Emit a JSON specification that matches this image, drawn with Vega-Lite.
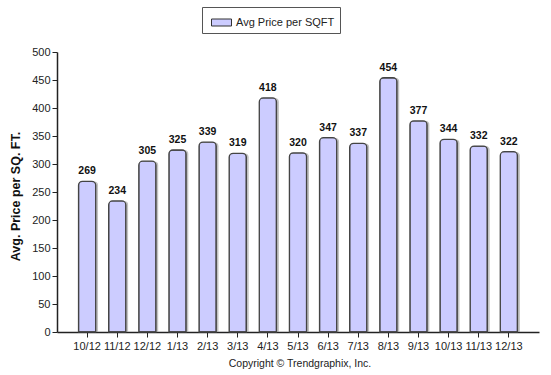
{
  "$schema": "https://vega.github.io/schema/vega-lite/v6.json",
  "width": 482,
  "height": 280,
  "autosize": "none",
  "padding": {"left": 57, "top": 52, "right": 12, "bottom": 43},
  "background": "white",
  "config": {
    "view": {"stroke": null},
    "font": "Liberation Sans",
    "axis": {"grid": false, "domainColor": "#222", "tickColor": "#222", "labelColor": "#222", "labelFont": "Liberation Sans", "labelFontSize": 11, "tickSize": 5, "domainWidth": 1.5}
  },
  "title": {"text": "Copyright © Trendgraphix, Inc.", "orient": "bottom", "anchor": "middle", "fontSize": 10.5, "fontWeight": "normal", "font": "Liberation Sans", "color": "#222", "offset": 8, "dx": 2},
  "data": {"values": [
    {"month": "10/12", "price": 269, "series": "Avg Price per SQFT"},
    {"month": "11/12", "price": 234, "series": "Avg Price per SQFT"},
    {"month": "12/12", "price": 305, "series": "Avg Price per SQFT"},
    {"month": "1/13", "price": 325, "series": "Avg Price per SQFT"},
    {"month": "2/13", "price": 339, "series": "Avg Price per SQFT"},
    {"month": "3/13", "price": 319, "series": "Avg Price per SQFT"},
    {"month": "4/13", "price": 418, "series": "Avg Price per SQFT"},
    {"month": "5/13", "price": 320, "series": "Avg Price per SQFT"},
    {"month": "6/13", "price": 347, "series": "Avg Price per SQFT"},
    {"month": "7/13", "price": 337, "series": "Avg Price per SQFT"},
    {"month": "8/13", "price": 454, "series": "Avg Price per SQFT"},
    {"month": "9/13", "price": 377, "series": "Avg Price per SQFT"},
    {"month": "10/13", "price": 344, "series": "Avg Price per SQFT"},
    {"month": "11/13", "price": 332, "series": "Avg Price per SQFT"},
    {"month": "12/13", "price": 322, "series": "Avg Price per SQFT"}
  ]},
  "encoding": {
    "x": {"field": "month", "type": "ordinal", "sort": null,
      "scale": {"paddingInner": 0.43, "paddingOuter": 0.715},
      "axis": {"title": null, "labelAngle": 0, "labelPadding": 3}},
    "y": {"field": "price", "type": "quantitative",
      "scale": {"domain": [0, 500], "nice": false},
      "axis": {"values": [0,50,100,150,200,250,300,350,400,450,500], "title": "Avg. Price per SQ. FT.", "titleFontSize": 12.5, "titleFontWeight": "bold", "titleColor": "#111", "titleFont": "Liberation Sans", "titlePadding": 9, "titleY": 144, "labelPadding": 2}}
  },
  "layer": [
    {
      "mark": {"type": "bar", "color": "#9a9a9a", "opacity": 0.6, "xOffset": 2.5, "cornerRadiusTopLeft": 4, "cornerRadiusTopRight": 4}
    },
    {
      "mark": {"type": "bar", "stroke": "#444", "strokeWidth": 1.3, "cornerRadiusTopLeft": 4, "cornerRadiusTopRight": 4},
      "encoding": {
        "fill": {"field": "series", "type": "nominal", "scale": {"range": ["#ccccff"]},
          "legend": {"title": null, "orient": "none", "legendX": 145, "legendY": -45, "strokeColor": "#555", "padding": 5, "fillColor": "white",
            "symbolType": "M-1,-0.35H1V0.35H-1Z", "symbolSize": 400, "symbolStrokeColor": "#333", "symbolStrokeWidth": 1, "labelFontSize": 11, "labelColor": "#222", "labelFont": "Liberation Sans", "labelOffset": 4, "symbolOffset": 4}}
      }
    },
    {
      "mark": {"type": "text", "dy": -10, "fontWeight": "bold", "fontSize": 10.5, "color": "#111", "font": "Liberation Sans"},
      "encoding": {"text": {"field": "price", "type": "quantitative"}}
    }
  ]
}
